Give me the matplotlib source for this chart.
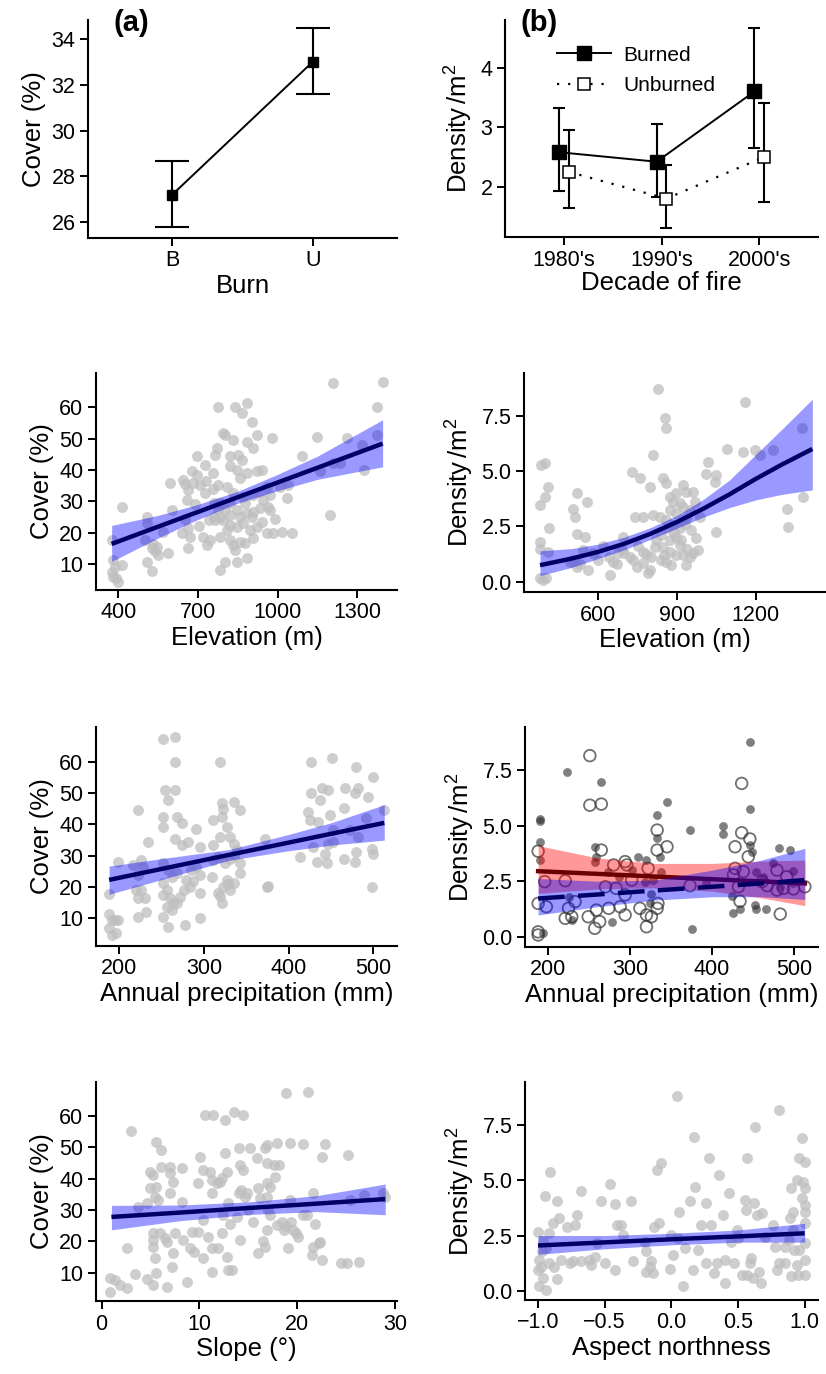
import matplotlib
matplotlib.use("Agg")
import matplotlib.pyplot as plt
import numpy as np
from matplotlib.lines import Line2D

plt.rcParams['font.family'] = ['Liberation Sans', 'DejaVu Sans']
plt.rcParams['mathtext.fontset'] = 'custom'
plt.rcParams['mathtext.rm'] = 'Liberation Sans'
plt.rcParams['mathtext.it'] = 'Liberation Sans:italic'

# ---- panel (a): cover by burn ----
burn_cats = ['B', 'U']
burn_cover = [27.2, 33.0]
burn_cover_lo = [25.8, 31.58]
burn_cover_hi = [28.65, 34.48]

# ---- panel (b): density by decade ----
decades = ["1980's", "1990's", "2000's"]
dens_burned = [2.58, 2.42, 3.60]
dens_burned_lo = [1.92, 1.83, 2.65]
dens_burned_hi = [3.33, 3.06, 4.67]
dens_unburned = [2.25, 1.80, 2.50]
dens_unburned_lo = [1.65, 1.31, 1.75]
dens_unburned_hi = [2.96, 2.37, 3.40]

# ---- cover vs elevation ----
elev_cover_pts = [
    (413, 28.3), (375, 17.7), (381, 11.3), (413, 9.7), (375, 7.5), (381, 6.0), (400, 4.4), (388, 9.0), (392, 5.5),
    (507, 25.1), (507, 23.0), (500, 17.7), (507, 10.7), (525, 7.6), (525, 15.0), (538, 14.0), (551, 12.9),
    (588, 13.4), (595, 35.7), (570, 20.3), (601, 27.2), (530, 16.5), (545, 15.5),
    (645, 36.8), (652, 35.5), (664, 33.6), (657, 30.4), (676, 39.5), (682, 35.7), (664, 21.4), (670, 18.7),
    (664, 15.0), (695, 44.3), (695, 38.4), (707, 35.2), (726, 41.6), (732, 36.5), (726, 32.6), (720, 18.7),
    (745, 17.7), (733, 16.0), (777, 60.2), (770, 46.9), (764, 44.8), (758, 38.9), (777, 35.2), (758, 34.0),
    (760, 25.1), (741, 24.0), (760, 29.4), (777, 27.2), (640, 20.0), (650, 24.5), (690, 29.0), (705, 22.0),
    (795, 51.7), (801, 51.2), (833, 49.6), (839, 60.2), (864, 58.1), (883, 61.3), (902, 55.4), (883, 49.0),
    (921, 51.2), (908, 46.9), (820, 44.3), (852, 44.8), (864, 43.2), (820, 41.1), (845, 40.0), (883, 38.9),
    (921, 39.5), (940, 40.0), (858, 37.3), (808, 34.7), (833, 32.6), (870, 31.5), (908, 32.0), (933, 33.1),
    (958, 34.7), (971, 32.0), (965, 28.3), (933, 27.8), (908, 26.7), (883, 26.2), (858, 25.1), (820, 25.6),
    (795, 24.0), (820, 22.4), (845, 21.9), (870, 23.0), (896, 20.9), (921, 21.9), (958, 19.8), (984, 19.8),
    (808, 20.9), (783, 18.7), (820, 17.7), (833, 16.0), (858, 17.1), (877, 16.6), (908, 18.2), (802, 10.7),
    (845, 10.7), (883, 11.8), (783, 8.1), (839, 14.5), (783, 25.1), (764, 24.0), (783, 29.4), (802, 27.2),
    (820, 29.4), (845, 27.2), (877, 29.4), (902, 25.1), (946, 30.4), (977, 50.1), (971, 27.2), (990, 24.5),
    (940, 23.5), (1015, 20.3), (1053, 19.8), (1009, 34.7), (1034, 31.0), (1040, 35.2), (1090, 44.3),
    (1147, 50.6), (1159, 39.5), (1197, 25.6), (1210, 67.7), (1260, 50.1), (1210, 42.1), (1235, 42.1),
    (1323, 40.0), (1316, 48.0), (1373, 60.2), (1395, 68.2), (1373, 51.2),
]
elev_cover_fit_x = [375, 550, 700, 850, 1000, 1150, 1395]
elev_cover_fit = [16.4, 21.9, 26.6, 31.3, 36.0, 40.7, 48.4]
elev_cover_lo = [10.8, 18.3, 24.2, 29.4, 33.4, 37.0, 41.0]
elev_cover_hi = [22.3, 25.5, 29.0, 33.2, 38.6, 44.4, 56.0]

# ---- density vs elevation ----
elev_dens_pts = [
    (384, 5.27), (397, 5.35), (410, 4.29), (397, 3.84), (378, 3.46), (413, 2.41), (378, 1.81), (379, 1.5),
    (410, 1.36), (380, 0.15), (390, 0.08), (400, 0.15),
    (518, 3.99), (505, 3.31), (511, 2.94), (556, 3.61), (518, 2.18), (550, 2.03), (492, 0.9), (518, 0.68),
    (562, 0.53), (543, 1.43), (581, 1.28), (530, 0.8), (505, 1.0),
    (600, 0.98), (644, 0.3), (657, 0.9), (676, 1.28), (689, 1.43), (695, 2.03), (640, 1.1), (620, 1.6), (670, 0.8),
    (727, 4.97), (759, 4.67), (797, 4.29), (809, 5.72), (740, 2.94), (771, 2.94), (733, 0.98), (746, 0.68),
    (771, 0.83), (797, 0.53), (790, 0.38), (771, 1.36), (784, 1.25), (803, 1.13), (816, 1.58), (822, 1.88),
    (809, 3.01), (835, 2.94), (720, 1.1), (752, 1.6), (700, 1.3),
    (828, 8.73), (854, 7.38), (860, 6.93), (848, 4.67), (860, 4.44), (873, 3.84), (886, 3.61), (898, 3.99),
    (911, 3.54), (924, 3.39), (898, 3.09), (873, 3.24), (860, 2.79), (886, 2.56), (911, 2.41), (898, 2.03),
    (873, 1.88), (848, 1.58), (873, 1.36), (898, 1.2), (924, 1.2), (911, 1.66), (841, 0.98), (860, 0.9),
    (879, 0.75), (936, 0.75), (949, 1.13), (924, 4.37), (936, 4.07), (962, 4.07), (968, 3.61), (949, 3.24),
    (936, 2.86), (974, 1.96), (981, 1.43), (962, 1.28), (987, 2.94), (955, 2.33), (930, 2.6), (890, 2.2),
    (865, 2.45), (840, 2.1), (850, 1.2), (915, 1.9), (940, 1.5),
    (1012, 4.89), (1019, 5.42), (1050, 4.82), (1044, 4.52), (1089, 6.02), (1050, 2.26),
    (1152, 5.87), (1158, 8.13), (1196, 5.95), (1215, 5.72), (1266, 5.95), (1317, 3.31), (1324, 2.48),
    (1374, 6.93), (1380, 3.84),
]
elev_dens_fit_x = [379, 500, 600, 700, 800, 900, 1000, 1100, 1200, 1300, 1415]
elev_dens_fit = [0.75, 1.05, 1.35, 1.72, 2.17, 2.7, 3.3, 3.95, 4.65, 5.3, 6.0]
elev_dens_lo = [0.28, 0.65, 1.05, 1.45, 1.92, 2.42, 2.92, 3.35, 3.7, 3.95, 4.15]
elev_dens_hi = [1.4, 1.5, 1.7, 2.02, 2.45, 3.0, 3.72, 4.6, 5.75, 6.9, 8.25]

# ---- cover vs precipitation ----
prec_cover_pts = [
    (188, 17.8), (188, 11.4), (191, 9.5), (195, 9.5), (199, 9.5), (188, 6.8), (192, 4.7), (196, 5.2), (199, 28.1),
    (222, 44.6), (216, 27.0), (226, 28.6), (228, 26.5), (222, 23.8), (220, 19.0), (222, 16.4), (230, 16.4),
    (226, 19.0), (222, 10.5), (232, 12.1), (234, 34.5),
    (252, 42.4), (252, 39.3), (254, 51.0), (258, 47.8), (266, 51.0), (252, 67.4), (266, 68.0), (266, 60.0),
    (268, 42.4), (274, 40.3), (266, 35.5), (274, 33.4), (252, 27.6), (258, 25.4), (262, 23.3), (268, 24.4),
    (252, 21.2), (256, 19.0), (252, 17.4), (260, 16.4), (264, 14.8), (256, 13.7), (252, 10.5), (258, 7.3),
    (262, 12.7), (268, 14.8), (272, 16.9), (276, 19.0), (279, 22.2), (283, 20.1), (285, 25.4), (281, 34.5),
    (278, 7.9), (291, 38.7), (295, 32.9), (295, 23.8), (295, 18.0), (295, 10.0), (291, 26.5), (287, 22.0),
    (311, 41.4), (319, 60.0), (321, 42.4), (321, 46.7), (323, 45.0), (335, 47.2), (343, 44.6), (311, 33.4),
    (319, 36.0), (327, 39.3), (331, 36.0), (335, 33.9), (339, 31.8), (343, 27.6), (343, 24.4), (309, 23.3),
    (317, 18.0), (321, 14.8), (323, 20.1), (327, 22.2), (331, 19.0), (335, 21.2), (325, 27.6), (331, 29.1),
    (335, 30.0), (317, 29.7), (311, 28.6), (319, 17.0), (329, 21.0),
    (374, 20.1), (372, 35.5), (376, 20.5),
    (413, 29.7), (427, 60.0), (451, 61.1), (427, 49.9), (437, 47.8), (439, 51.5), (447, 50.9), (423, 44.0),
    (425, 41.4), (435, 40.9), (429, 32.9), (433, 28.1), (445, 27.6), (443, 30.7), (447, 33.9), (453, 38.2),
    (449, 43.0), (465, 45.1), (467, 51.5), (465, 29.1), (478, 49.9), (482, 51.5), (480, 58.4), (480, 31.3),
    (478, 28.1), (482, 36.0), (472, 38.2), (492, 41.9), (494, 48.8), (500, 55.2), (498, 32.3), (498, 20.1),
    (500, 30.7), (513, 44.6), (453, 34.5),
]
prec_cover_fit_x = [188, 250, 330, 400, 450, 513]
prec_cover_fit = [22.3, 25.8, 30.3, 34.2, 37.0, 40.5]
prec_cover_lo = [17.7, 22.4, 28.6, 31.6, 33.4, 35.0]
prec_cover_hi = [26.7, 29.1, 32.0, 36.8, 40.5, 46.3]

# ---- density vs precipitation, burned (filled) / unburned (open) ----
prec_dens_burned = [
    (190, 5.30), (190, 5.22), (190, 4.27), (190, 3.45), (194, 0.15), (223, 7.40), (265, 6.97), (257, 4.05),
    (257, 3.38), (259, 3.6), (278, 0.68), (310, 3.6), (320, 3.45), (333, 5.48), (333, 4.43), (337, 3.6),
    (345, 6.08), (338, 2.93), (328, 2.55), (324, 1.5), (373, 4.8), (375, 0.33), (413, 5.0), (413, 4.62),
    (424, 1.85), (425, 1.05), (434, 1.25), (446, 8.75), (446, 5.75), (446, 4.12), (448, 3.83), (453, 2.9),
    (452, 1.43), (454, 1.25), (466, 1.25), (481, 4.0), (495, 3.9), (499, 2.96), (499, 2.4),
    (229, 0.75), (226, 1.8), (273, 2.93), (287, 2.7), (302, 3.0), (318, 2.48), (325, 1.92), (393, 2.4),
    (462, 2.7), (474, 3.3), (483, 2.25),
]
prec_dens_unburned = [
    (188, 3.85), (188, 1.5), (198, 1.35), (188, 0.08), (188, 0.22), (196, 2.48), (221, 2.52), (221, 0.83),
    (229, 0.9), (225, 1.28), (251, 8.15), (251, 5.92), (265, 5.97), (265, 3.9), (249, 0.9), (257, 0.38),
    (263, 0.68), (259, 1.2), (274, 1.28), (288, 1.35), (294, 0.98), (294, 1.88), (294, 3.38), (296, 3.23),
    (280, 3.23), (270, 2.25), (312, 1.28), (320, 0.45), (326, 0.9), (333, 1.28), (320, 0.98), (322, 3.08),
    (333, 4.8), (345, 4.05), (333, 3.9), (302, 2.55), (283, 2.18), (334, 1.5), (373, 2.3), (428, 4.05),
    (436, 4.68), (446, 4.4), (436, 6.9), (444, 3.6), (428, 3.08), (438, 2.93), (479, 3.0), (432, 2.25),
    (434, 1.6), (467, 2.3), (479, 2.1), (487, 2.18), (499, 2.15), (513, 2.25), (483, 1.02), (491, 2.7),
    (461, 2.48), (426, 2.78), (233, 1.58),
]
prec_dens_fit_x = [188, 260, 330, 400, 460, 513]
prec_dens_burned_fit = [2.95, 2.83, 2.71, 2.59, 2.49, 2.40]
prec_dens_burned_lo = [1.95, 2.15, 2.2, 2.05, 1.75, 1.4]
prec_dens_burned_hi = [4.1, 3.55, 3.3, 3.3, 3.4, 3.45]
prec_dens_unburned_fit = [1.72, 1.9, 2.08, 2.25, 2.4, 2.55]
prec_dens_unburned_lo = [0.98, 1.35, 1.65, 1.8, 1.8, 1.68]
prec_dens_unburned_hi = [2.62, 2.5, 2.55, 3.0, 3.45, 3.98]

# ---- cover vs slope ----
slope_cover_pts = [
    (0.85, 8.2), (0.85, 3.9), (1.36, 7.7), (1.87, 6.1), (2.56, 5.0), (2.56, 17.8), (2.97, 55.3), (3.4, 9.6),
    (3.75, 31.1), (4.6, 32.1), (4.6, 7.9), (5.3, 6.1), (4.9, 42.2), (5.3, 41.2), (5.6, 51.8), (6.1, 49.1),
    (4.9, 36.9), (5.6, 37.4), (5.45, 34.3), (5.8, 33.2), (5.3, 22.6), (5.3, 20.4), (5.3, 18.3), (5.45, 14.6),
    (5.6, 9.8), (6.1, 43.8), (7.0, 43.8), (7.0, 41.7), (7.3, 39.0), (7.0, 35.3), (6.0, 22.6), (6.5, 21.0),
    (6.65, 19.9), (7.5, 22.6), (7.3, 16.2), (7.2, 11.9), (6.65, 5.5), (8.2, 43.3), (8.2, 32.7), (8.35, 20.4),
    (8.7, 7.1), (9.0, 17.8), (9.4, 16.7), (9.2, 23.1), (9.9, 23.1), (10.1, 47.0), (9.9, 38.5), (10.4, 42.8),
    (10.6, 60.3), (11.4, 60.3), (11.1, 42.2), (11.25, 39.6), (11.25, 35.3), (10.4, 26.8), (10.9, 21.5),
    (11.25, 17.8), (10.4, 14.6), (11.25, 10.3), (11.9, 17.8), (11.8, 38.5), (12.1, 39.0), (12.3, 40.1),
    (12.6, 58.7), (12.6, 48.1), (12.8, 42.2), (12.4, 28.4), (12.95, 32.1), (13.1, 25.7), (12.3, 22.6),
    (12.8, 15.1), (12.95, 10.9), (13.3, 10.9), (13.5, 61.4), (14.0, 49.7), (14.15, 44.4), (14.0, 35.3),
    (14.3, 36.4), (13.8, 27.9), (14.15, 20.4), (14.5, 60.3), (14.5, 42.8), (14.7, 34.3), (14.85, 35.3),
    (15.0, 30.0), (15.2, 49.7), (15.5, 26.3), (15.85, 46.5), (16.0, 36.9), (16.2, 33.8), (16.0, 16.2),
    (16.5, 20.2), (16.7, 18.3), (16.7, 49.7), (16.9, 50.7), (16.9, 44.9), (16.9, 38.5), (16.9, 34.3),
    (17.05, 30.0), (16.9, 23.6), (17.2, 37.4), (17.2, 28.4), (17.6, 44.4), (17.7, 40.6), (18.1, 44.4),
    (17.9, 51.3), (17.9, 25.2), (18.4, 26.3), (18.9, 67.2), (19.3, 51.5), (19.3, 33.2), (18.6, 23.6),
    (18.9, 24.8), (19.4, 26.3), (19.6, 23.6), (19.1, 17.8), (19.9, 22.6), (20.1, 21.5), (20.6, 28.4),
    (20.6, 51.0), (21.0, 28.4), (21.1, 67.8), (21.6, 35.3), (21.6, 18.3), (21.5, 15.6), (21.8, 25.5),
    (22.2, 19.4), (22.3, 19.9), (22.5, 47.0), (22.8, 51.0), (22.5, 14.0), (24.5, 13.0), (25.1, 13.0),
    (25.2, 47.6), (25.4, 33.2), (26.3, 13.5), (26.8, 34.8), (28.8, 35.3), (29.0, 34.3),
]
slope_cover_fit_x = [1, 8, 15, 22, 29]
slope_cover_fit = [27.8, 29.2, 30.65, 32.05, 33.5]
slope_cover_lo = [23.7, 26.6, 28.6, 29.5, 28.5]
slope_cover_hi = [31.5, 31.6, 32.6, 34.6, 38.3]

# ---- density vs aspect northness ----
aspect_dens_pts = [
    (-1.0, 2.68), (-0.99, 1.4), (-1.0, 0.95), (-0.99, 0.2), (-0.96, 0.57), (-0.94, 0.05), (-0.96, 2.23),
    (-0.95, 4.29), (-0.91, 5.35), (-0.92, 2.6), (-0.94, 1.93), (-0.92, 1.25), (-0.88, 1.1), (-0.86, 4.07),
    (-0.86, 0.53), (-0.89, 3.06), (-0.84, 3.28), (-0.83, 1.4), (-0.78, 2.9), (-0.76, 1.25), (-0.72, 2.98),
    (-0.71, 3.43), (-0.68, 4.49), (-0.74, 1.33), (-0.68, 1.33), (-0.62, 1.4), (-0.6, 1.17), (-0.57, 1.55),
    (-0.56, 2.15), (-0.53, 4.08), (-0.5, 1.25), (-0.46, 4.83), (-0.42, 3.93), (-0.42, 0.92), (-0.41, 2.98),
    (-0.38, 2.98), (-0.36, 2.53), (-0.3, 4.04), (-0.29, 1.33), (-0.19, 1.78), (-0.19, 0.87), (-0.15, 1.33),
    (-0.14, 0.8), (-0.16, 1.1), (-0.13, 2.9), (-0.11, 5.44), (-0.08, 5.77), (-0.09, 3.06), (-0.01, 0.98),
    (0.0, 2.53), (0.01, 1.6), (0.04, 8.78), (0.06, 3.58), (0.09, 0.2), (0.1, 1.93), (0.14, 4.04), (0.16, 0.95),
    (0.18, 4.71), (0.17, 6.97), (0.2, 1.85), (0.22, 2.98), (0.26, 3.96), (0.26, 1.25), (0.28, 5.99),
    (0.3, 2.98), (0.32, 0.8), (0.34, 1.25), (0.36, 5.24), (0.39, 3.43), (0.4, 0.35), (0.4, 1.4), (0.43, 4.41),
    (0.47, 1.25), (0.49, 2.76), (0.53, 0.72), (0.55, 4.11), (0.56, 3.66), (0.57, 5.99), (0.57, 0.72),
    (0.59, 1.25), (0.6, 1.48), (0.61, 0.57), (0.62, 3.96), (0.63, 7.39), (0.64, 3.43), (0.66, 0.87),
    (0.67, 0.35), (0.68, 3.51), (0.78, 2.0), (0.76, 2.98), (0.79, 0.95), (0.81, 8.15), (0.81, 1.25),
    (0.85, 1.25), (0.88, 2.3), (0.89, 3.28), (0.9, 4.64), (0.91, 3.58), (0.9, 0.65), (0.94, 5.01),
    (0.94, 1.17), (0.96, 5.99), (0.98, 6.9), (0.99, 4.94), (1.0, 5.84), (1.0, 3.89), (1.0, 3.58), (1.0, 3.06),
    (1.0, 2.15), (1.0, 1.4), (1.0, 0.72), (1.0, 4.64), (0.98, 4.19), (0.96, 1.85), (0.92, 1.85), (0.91, 2.76),
    (0.85, 2.0), (0.95, 0.72), (-0.98, 1.1), (-0.97, 1.8), (0.7, 2.45), (0.45, 2.2), (0.5, 2.4), (-0.2, 2.2),
    (0.05, 2.4),
]
aspect_dens_fit_x = [-1.0, -0.5, 0.0, 0.5, 1.0]
aspect_dens_fit = [2.05, 2.19, 2.33, 2.46, 2.6]
aspect_dens_lo = [1.65, 1.9, 2.08, 2.2, 2.2]
aspect_dens_hi = [2.5, 2.5, 2.6, 2.75, 3.05]

TICK_FS = 15.5
LAB_FS = 18.5
PT_GREY = '#BEBEBE'
RIB_BLUE = 'blue'
LINE_NAVY = '#000066'
DENS_LABEL = r'Density$\,$/m$^2$'


def style(ax):
    for s in ['top', 'right']:
        ax.spines[s].set_visible(False)
    for s in ['left', 'bottom']:
        ax.spines[s].set_linewidth(1.5)
    ax.tick_params(axis='both', which='major', length=6, width=1.4,
                   labelsize=TICK_FS, pad=3, colors='black')


def scatter_fit(ax, pts, fx, fy, lo, hi):
    p = np.array(pts)
    ax.scatter(p[:, 0], p[:, 1], s=62, color=PT_GREY, alpha=0.75,
               linewidths=0, zorder=1)
    ax.fill_between(fx, lo, hi, color=RIB_BLUE, alpha=0.4, linewidth=0, zorder=2)
    ax.plot(fx, fy, color=LINE_NAVY, lw=3.2, zorder=3, solid_capstyle='butt')


fig = plt.figure(figsize=(8.26, 13.74), dpi=100)

# (a)
ax = fig.add_axes([0.1065, 0.8268, 0.3741, 0.1587])
xa = np.arange(1, len(burn_cats) + 1)
ax.errorbar(xa, burn_cover,
            yerr=[np.array(burn_cover) - np.array(burn_cover_lo),
                  np.array(burn_cover_hi) - np.array(burn_cover)],
            fmt='s-', color='black', ms=7.5, lw=1.4, elinewidth=1.5,
            capsize=12.5, capthick=1.5)
ax.set_xlim(0.4, 2.6)
ax.set_ylim(25.31, 34.83)
ax.set_xticks(xa)
ax.set_xticklabels(burn_cats)
ax.set_yticks([26, 28, 30, 32, 34])
ax.set_xlabel('Burn', fontsize=LAB_FS, labelpad=2)
ax.set_ylabel('Cover (%)', fontsize=LAB_FS)
style(ax)
fig.text(113 / 826, 1 - 23 / 1374, '(a)', fontsize=21, fontweight='bold', va='center')

# (b)
ax = fig.add_axes([0.6114, 0.8275, 0.3789, 0.1579])
xb = np.arange(1, len(decades) + 1)
ax.errorbar(xb - 0.05, dens_burned,
            yerr=[np.array(dens_burned) - np.array(dens_burned_lo),
                  np.array(dens_burned_hi) - np.array(dens_burned)],
            fmt='s-', color='black', ms=9.5, lw=1.4, elinewidth=1.5,
            capsize=4.5, capthick=1.5, zorder=3)
ax.errorbar(xb + 0.05, dens_unburned,
            yerr=[np.array(dens_unburned) - np.array(dens_unburned_lo),
                  np.array(dens_unburned_hi) - np.array(dens_unburned)],
            fmt='none', ecolor='black', elinewidth=1.5, capsize=4.5, capthick=1.5, zorder=2)
ax.plot(xb + 0.05, dens_unburned, ls=(0, (1, 4)), color='black', lw=1.6, zorder=2)
ax.plot(xb + 0.05, dens_unburned, 's', ms=9, mfc='white', mec='black', mew=1.1, zorder=4)
ax.set_xlim(0.4, 3.6)
ax.set_ylim(1.155, 4.8)
ax.set_xticks(xb)
ax.set_xticklabels(decades)
ax.set_yticks([2, 3, 4])
ax.set_xlabel('Decade of fire', fontsize=LAB_FS, labelpad=0)
ax.set_ylabel(DENS_LABEL, fontsize=LAB_FS)
style(ax)
handles = [Line2D([], [], color='black', lw=1.4, marker='s', ms=9.5),
           Line2D([], [], color='black', lw=1.6, ls=(0, (1, 4)), marker='s', ms=9,
                  mfc='white', mec='black', mew=1.1)]
ax.legend(handles, ['Burned', 'Unburned'], loc='upper left', bbox_to_anchor=(0.125, 0.94),
          frameon=False, fontsize=15, handlelength=2.6, handletextpad=0.6,
          labelspacing=0.55, borderpad=0.1)
fig.text(521 / 826, 1 - 23 / 1374, '(b)', fontsize=21, fontweight='bold', va='center')

# cover vs elevation
ax = fig.add_axes([0.1162, 0.5706, 0.3644, 0.1579])
scatter_fit(ax, elev_cover_pts, elev_cover_fit_x, elev_cover_fit, elev_cover_lo, elev_cover_hi)
ax.set_xlim(316, 1449)
ax.set_ylim(1.7, 70.9)
ax.set_xticks([400, 700, 1000, 1300])
ax.set_yticks([10, 20, 30, 40, 50, 60])
ax.set_xlabel('Elevation (m)', fontsize=LAB_FS, labelpad=2)
ax.set_ylabel('Cover (%)', fontsize=LAB_FS)
style(ax)

# density vs elevation
ax = fig.add_axes([0.6344, 0.5691, 0.3656, 0.1594])
scatter_fit(ax, elev_dens_pts, elev_dens_fit_x, elev_dens_fit, elev_dens_lo, elev_dens_hi)
ax.set_xlim(318, 1467)
ax.set_ylim(-0.465, 9.43)
ax.set_xticks([600, 900, 1200])
ax.set_yticks([0, 2.5, 5, 7.5])
ax.set_yticklabels(['0.0', '2.5', '5.0', '7.5'])
ax.set_xlabel('Elevation (m)', fontsize=LAB_FS, labelpad=2)
ax.set_ylabel(DENS_LABEL, fontsize=LAB_FS)
style(ax)

# cover vs precipitation
ax = fig.add_axes([0.1162, 0.3115, 0.3644, 0.1594])
scatter_fit(ax, prec_cover_pts, prec_cover_fit_x, prec_cover_fit, prec_cover_lo, prec_cover_hi)
ax.set_xlim(172.5, 528)
ax.set_ylim(1.2, 71.1)
ax.set_xticks([200, 300, 400, 500])
ax.set_yticks([10, 20, 30, 40, 50, 60])
ax.set_xlabel('Annual precipitation (mm)', fontsize=LAB_FS, labelpad=2)
ax.set_ylabel('Cover (%)', fontsize=LAB_FS)
style(ax)

# density vs precipitation (burned / unburned)
ax = fig.add_axes([0.6356, 0.3108, 0.3547, 0.1601])
pb = np.array(prec_dens_burned)
pu = np.array(prec_dens_unburned)
ax.scatter(pb[:, 0], pb[:, 1], s=40, color='#2B2B2B', alpha=0.6, linewidths=0, zorder=1)
ax.scatter(pu[:, 0], pu[:, 1], s=70, facecolors='none', edgecolors='#333333',
           alpha=0.7, linewidths=1.3, zorder=1)
ax.fill_between(prec_dens_fit_x, prec_dens_burned_lo, prec_dens_burned_hi,
                color='red', alpha=0.4, linewidth=0, zorder=2)
ax.plot(prec_dens_fit_x, prec_dens_burned_fit, color='#6B0000', lw=3.2, zorder=3)
ax.fill_between(prec_dens_fit_x, prec_dens_unburned_lo, prec_dens_unburned_hi,
                color='blue', alpha=0.4, linewidth=0, zorder=4)
ax.plot(prec_dens_fit_x, prec_dens_unburned_fit, color=LINE_NAVY, lw=3.2,
        dashes=(6, 3), zorder=5)
ax.set_xlim(172, 529)
ax.set_ylim(-0.46, 9.44)
ax.set_xticks([200, 300, 400, 500])
ax.set_yticks([0, 2.5, 5, 7.5])
ax.set_yticklabels(['0.0', '2.5', '5.0', '7.5'])
ax.set_xlabel('Annual precipitation (mm)', fontsize=LAB_FS, labelpad=2)
ax.set_ylabel(DENS_LABEL, fontsize=LAB_FS)
style(ax)

# cover vs slope
ax = fig.add_axes([0.1162, 0.0531, 0.3644, 0.1594])
scatter_fit(ax, slope_cover_pts, slope_cover_fit_x, slope_cover_fit, slope_cover_lo, slope_cover_hi)
ax.set_xlim(-0.58, 30.2)
ax.set_ylim(0.97, 70.85)
ax.set_xticks([0, 10, 20, 30])
ax.set_yticks([10, 20, 30, 40, 50, 60])
ax.set_xlabel('Slope (\u00b0)', fontsize=LAB_FS, labelpad=2)
ax.set_ylabel('Cover (%)', fontsize=LAB_FS)
style(ax)

# density vs aspect
ax = fig.add_axes([0.6356, 0.0539, 0.3547, 0.1587])
scatter_fit(ax, aspect_dens_pts, aspect_dens_fit_x, aspect_dens_fit, aspect_dens_lo, aspect_dens_hi)
ax.set_xlim(-1.0975, 1.1)
ax.set_ylim(-0.41, 9.44)
ax.set_xticks([-1, -0.5, 0, 0.5, 1])
ax.set_xticklabels(['\u22121.0', '\u22120.5', '0.0', '0.5', '1.0'])
ax.set_yticks([0, 2.5, 5, 7.5])
ax.set_yticklabels(['0.0', '2.5', '5.0', '7.5'])
ax.set_xlabel('Aspect northness', fontsize=LAB_FS, labelpad=2)
ax.set_ylabel(DENS_LABEL, fontsize=LAB_FS)
style(ax)

fig.savefig('out.png', dpi=100)
